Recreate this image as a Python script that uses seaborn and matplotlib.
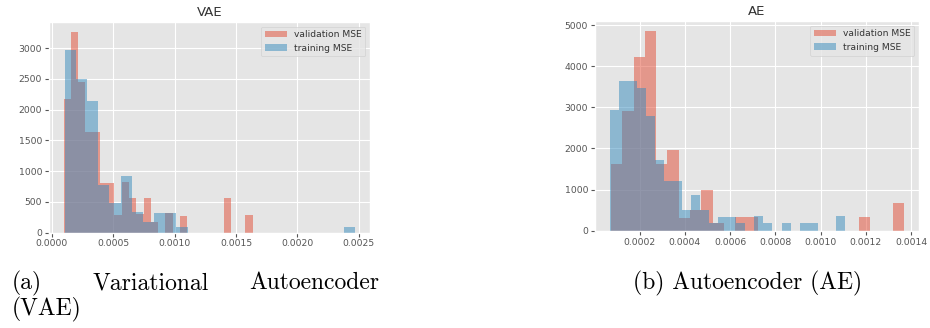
import numpy as np
import pandas as pd
import matplotlib
matplotlib.use("Agg")
import matplotlib.pyplot as plt
import seaborn as sns

# ---------------- data ----------------
# VAE
vae_val_range = (0.0000955, 0.0016351)
vae_val_counts = [2170, 3260, 2450, 1640, 1640, 810, 810, 283, 826, 555, 300, 555, 174,
                  0, 320, 0, 272, 0, 0, 0, 0, 0, 555, 0, 0, 283]
vae_train_range = (0.0001036, 0.0024717)
vae_train_counts = [2970, 2500, 2140, 780, 474, 918, 337, 174, 320, 320, 93,
                    0, 0, 0, 0, 0, 0, 0, 0, 0, 0, 0, 0, 0, 0, 90]
# AE
ae_val_range = (0.0000741, 0.0013700)
ae_val_counts = [1614, 2920, 4227, 4856, 1614, 1953, 320, 510, 985, 190, 0, 324, 324,
                 0, 0, 0, 0, 0, 0, 0, 0, 0, 324, 0, 0, 662]
ae_train_range = (0.0000683, 0.0011073)
ae_train_counts = [2945, 3646, 3646, 3470, 2800, 1727, 1210, 1210, 510, 860, 500, 190, 340,
                   340, 178, 0, 355, 178, 0, 178, 0, 178, 178, 0, 0, 355]

titles = ["VAE", "AE"]
labels = ["validation MSE", "training MSE"]

# ---------------- style ----------------
plt.style.use("ggplot")
RED, BLUE = "#E24A33", "#348ABD"

W, H = 930, 328
fig = plt.figure(figsize=(W / 100, H / 100), dpi=100)
ax1 = fig.add_axes([49 / W, 1 - 232.5 / H, 321 / W, 210.5 / H])
ax2 = fig.add_axes([595 / W, 1 - 230.7 / H, 324 / W, 209.7 / H])


def draw(ax, rng, counts, color, label):
    edges = np.linspace(rng[0], rng[1], len(counts) + 1)
    df = pd.DataFrame({"mse": (edges[:-1] + edges[1:]) / 2,
                       "n": np.asarray(counts, dtype=float)})
    sns.histplot(data=df, x="mse", weights="n", bins=list(edges), color=color,
                 alpha=0.5, linewidth=0, label=label, ax=ax)


for ax, (vr, vc, tr, tc), title in zip(
        [ax1, ax2],
        [(vae_val_range, vae_val_counts, vae_train_range, vae_train_counts),
         (ae_val_range, ae_val_counts, ae_train_range, ae_train_counts)],
        titles):
    draw(ax, vr, vc, RED, labels[0])
    draw(ax, tr, tc, BLUE, labels[1])
    ax.set_xlabel("")
    ax.set_ylabel("")
    ax.set_title(title, fontsize=9.5, color="#333333", pad=4)
    ax.tick_params(labelsize=6.7, colors="#555555", length=3, pad=2)
    leg = ax.legend(loc="upper right", fontsize=6.6, handlelength=2.4)
    for t in leg.get_texts():
        t.set_color("#333333")

ax1.set_xticks([0.0, 0.0005, 0.0010, 0.0015, 0.0020, 0.0025])
ax1.xaxis.set_major_formatter(matplotlib.ticker.FormatStrFormatter("%.4f"))
ax2.xaxis.set_major_formatter(matplotlib.ticker.FormatStrFormatter("%.4f"))

# ---------------- captions ----------------
cap = dict(fontfamily="cmr10", fontsize=17, color="black", va="center")
fig.text(12 / W, 1 - 283 / H, "(a)", ha="left", **cap)
fig.text(93 / W, 1 - 283 / H, "Variational", ha="left", **cap)
fig.text(379 / W, 1 - 283 / H, "Autoencoder", ha="right", **cap)
fig.text(12 / W, 1 - 309 / H, "(VAE)", ha="left", **cap)
fig.text(748 / W, 1 - 283 / H, "(b) Autoencoder (AE)", ha="center", **cap)

fig.savefig("out.png", dpi=100, facecolor="white")
